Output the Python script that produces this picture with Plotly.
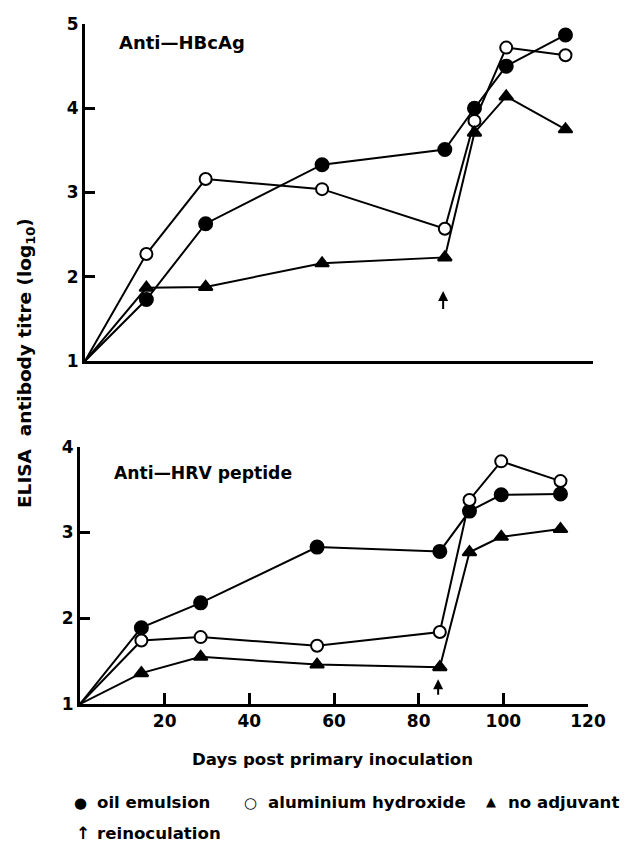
import plotly.graph_objects as go

# ---- data ----
days = [0, 14.5, 28.5, 56, 85, 92, 99.5, 113.5]

hbc_oil = [1, 1.73, 2.63, 3.33, 3.51, 4.00, 4.50, 4.87]
hbc_alum = [1, 2.27, 3.16, 3.04, 2.57, 3.85, 4.72, 4.63]
hbc_none = [1, 1.87, 1.88, 2.16, 2.23, 3.71, 4.14, 3.75]

hrv_oil = [1, 1.89, 2.18, 2.83, 2.78, 3.25, 3.44, 3.45]
hrv_alum = [1, 1.74, 1.78, 1.68, 1.84, 3.38, 3.83, 3.60]
hrv_none = [1, 1.36, 1.55, 1.46, 1.43, 2.77, 2.95, 3.04]

reinoc_day = 84.6
x_ticks = [20, 40, 60, 80, 100, 120]
hbc_ticks = [1, 2, 3, 4, 5]
hrv_ticks = [1, 2, 3, 4]

# ---- geometry (page pixels; page has an 8px body offset) ----
OFF = 8
W, H = 630 - OFF, 847 - OFF
L, R, T, B = 72, 37, 6, 143
pw = W - L - R
ph = H - T - B


def fx(p):  # page px -> paper x
    return (p - OFF - L) / pw


def fy(p):  # page px -> paper y
    return (H - B - (p - OFF)) / ph


FONT = "DejaVu Sans"
BLACK = "black"

fig = go.Figure()

panels = [
    ("x", "y", [hbc_oil, hbc_alum, hbc_none]),
    ("x2", "y2", [hrv_oil, hrv_alum, hrv_none]),
]
styles = [("circle", BLACK, 13), ("circle", "white", 12), ("triangle-up", BLACK, 12)]

for xa, ya, sers in panels:
    for ys in sers:
        fig.add_trace(go.Scatter(x=days, y=ys, mode="lines", xaxis=xa, yaxis=ya,
                                 showlegend=False, hoverinfo="skip",
                                 line=dict(color=BLACK, width=2)))
for xa, ya, sers in panels:
    for ys, (sym, fill, size) in zip(sers, styles):
        fig.add_trace(go.Scatter(x=days[1:], y=ys[1:], mode="markers", xaxis=xa, yaxis=ya,
                                 showlegend=False,
                                 marker=dict(symbol=sym, size=size, color=fill,
                                             line=dict(color=BLACK, width=2))))

axis_common = dict(showgrid=False, zeroline=False, showline=True, linecolor=BLACK, linewidth=3)
tickfont = dict(family=FONT, size=17, color=BLACK, weight="bold")

fig.update_layout(
    width=W, height=H,
    margin=dict(l=L, r=R, t=T, b=B),
    paper_bgcolor="white", plot_bgcolor="white",
    xaxis=dict(**axis_common, range=[0, 120], domain=[fx(85), fx(593)], anchor="y",
               showticklabels=False, ticks=""),
    yaxis=dict(**axis_common, range=[1, 5], domain=[fy(356), fy(14)], anchor="x", tickvals=hbc_ticks,
               ticks="inside", ticklen=10, tickwidth=2.5, tickcolor=BLACK, tickfont=tickfont),
    xaxis2=dict(**axis_common, range=[0, 120], domain=[fx(80), fx(588)], anchor="y2", tickvals=x_ticks,
                ticks="inside", ticklen=11, tickwidth=3, tickcolor=BLACK, tickfont=tickfont),
    yaxis2=dict(**axis_common, range=[1, 4], domain=[fy(704), fy(443)], anchor="x2", tickvals=hrv_ticks,
                ticks="inside", ticklen=10, tickwidth=2.5, tickcolor=BLACK, tickfont=tickfont),
)

txt = dict(family=FONT, size=18, color=BLACK, weight="bold")
ann = []


def label(text, x, y, xanchor="left", size=18, **kw):
    f = dict(txt)
    f["size"] = size
    ann.append(dict(text=text, xref="paper", yref="paper", x=fx(x), y=fy(y),
                    xanchor=xanchor, yanchor="middle", showarrow=False, font=f, **kw))


# panel labels
label("Anti—HBcAg", 117, 33, size=18)
label("Anti—HRV peptide", 112, 470, size=17.2)
# reinoculation arrows
ann.append(dict(x=reinoc_day, y=1.83, ax=reinoc_day, ay=1.60, xref="x", yref="y", axref="x", ayref="y",
                showarrow=True, arrowhead=2, arrowsize=1, arrowwidth=2, arrowcolor=BLACK, text=""))
ann.append(dict(x=reinoc_day, y=1.29, ax=reinoc_day, ay=1.09, xref="x2", yref="y2", axref="x2", ayref="y2",
                showarrow=True, arrowhead=2, arrowsize=1, arrowwidth=2, arrowcolor=BLACK, text=""))
# axis titles
label("Days post primary inoculation", 332, 760, xanchor="center", size=16.6)
label("ELISA  antibody titre (log<sub>10</sub>)", 26, 358, xanchor="center", size=18.5, textangle=-90)
# legend
LS = 16.6
label("●", 80, 804, xanchor="center", size=15)
label("oil emulsion", 95, 804, size=LS)
label("○", 250, 804, xanchor="center", size=15)
label("aluminium hydroxide", 266, 804, size=LS)
label("▲", 491, 803, xanchor="center", size=13)
label("no adjuvant", 506, 804, size=LS)
label("↑", 83, 835, xanchor="center", size=17)
label("reinoculation", 95, 835, size=LS)

fig.update_layout(annotations=ann)
fig.write_html("out.html")
